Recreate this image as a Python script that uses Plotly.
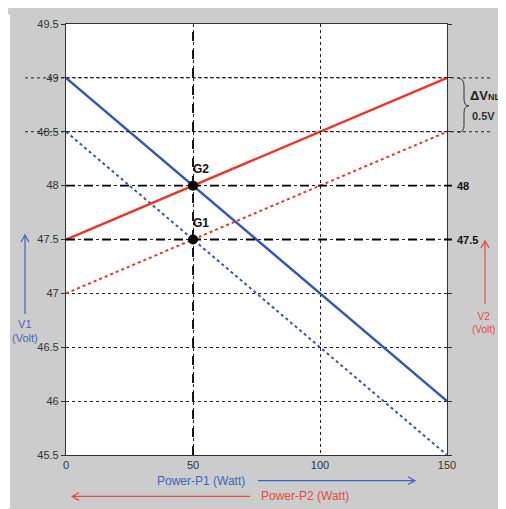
import plotly.graph_objects as go

# ---- data ----
power = [0, 150]
v1_solid = [49, 46]
v1_dotted = [48.5, 45.5]
v2_solid = [47.5, 49]
v2_dotted = [47, 48.5]
g_x = [50, 50]
g_y = [48, 47.5]
g_labels = ["G2", "G1"]
x_ticks = [0, 50, 100, 150]
y_ticks = [45.5, 46, 46.5, 47, 47.5, 48, 48.5, 49, 49.5]
right_labels = [48, 47.5]

OFF = 8  # page body margin
W, H = 506 - OFF, 509 - OFF
L, R, T, B = 66, 447, 18, 455  # plot area in reference (window) pixels
BLUE = "#3557b0"
RED = "#e8382e"
BLUE_T = "#3d66bd"
RED_T = "#e84a40"
FONT = "Liberation Sans, Arial, sans-serif"


def px(xp):
    return (xp - L) / (R - L)


def py(yp):
    return (B - yp) / (B - T)


def P(xp, yp):
    return f"{px(xp):.5f},{py(yp):.5f}"


fig = go.Figure()

fig.add_trace(go.Scatter(x=power, y=v1_solid, mode="lines",
                         line=dict(color=BLUE, width=2.5), showlegend=False))
fig.add_trace(go.Scatter(x=power, y=v1_dotted, mode="lines",
                         line=dict(color=BLUE, width=2, dash="dot"), showlegend=False))
fig.add_trace(go.Scatter(x=power, y=v2_solid, mode="lines",
                         line=dict(color=RED, width=2.5), showlegend=False))
fig.add_trace(go.Scatter(x=power, y=v2_dotted, mode="lines",
                         line=dict(color=RED, width=2, dash="dot"), showlegend=False))
fig.add_trace(go.Scatter(x=g_x, y=g_y, mode="markers",
                         marker=dict(color="black", size=10), showlegend=False))

shapes = []
# thin white strip at the left edge
shapes.append(dict(type="rect", xref="paper", yref="paper", x0=px(OFF), x1=px(10), y0=py(H + OFF), y1=py(OFF),
                   fillcolor="white", line=dict(width=0), layer="below"))
# extended dotted lines for 49 and 48.5
for yv in [49, 48.5]:
    shapes.append(dict(type="line", xref="paper", yref="y", x0=px(25), x1=px(490), y0=yv, y1=yv,
                       line=dict(color="#222", width=1, dash="dot")))
# dashed lines at 48 and 47.5
for yv in right_labels:
    shapes.append(dict(type="line", xref="paper", yref="y", x0=0, x1=px(452), y0=yv, y1=yv,
                       line=dict(color="black", width=1.8, dash="dash")))
# dashed vertical at 50
shapes.append(dict(type="line", xref="x", yref="paper", x0=50, x1=50, y0=0, y1=1,
                   line=dict(color="black", width=1.8, dash="dash")))

# brace
brace = (f"M {P(458,73)} Q {P(464,73)} {P(464,81)} L {P(464,94)} Q {P(464,101)} {P(469,101)} "
         f"Q {P(464,101)} {P(464,108)} L {P(464,121)} Q {P(464,128)} {P(458,128)}")
shapes.append(dict(type="path", xref="paper", yref="paper", path=brace,
                   line=dict(color="#333", width=1)))


def harrow(x1, x2, y, color):
    d = 1 if x2 > x1 else -1
    return dict(type="path", xref="paper", yref="paper",
                path=f"M {P(x1,y)} L {P(x2,y)} M {P(x2-7*d,y-4)} L {P(x2,y)} L {P(x2-7*d,y+4)}",
                line=dict(color=color, width=1.2))


def varrow(x, y1, y2, color):
    return dict(type="path", xref="paper", yref="paper",
                path=f"M {P(x,y1)} L {P(x,y2)} M {P(x-4,y2+7)} L {P(x,y2)} L {P(x+4,y2+7)}",
                line=dict(color=color, width=1.2))


shapes.append(harrow(258, 415, 481, BLUE_T))
shapes.append(harrow(250, 72, 497, RED_T))
shapes.append(varrow(25, 312, 232, BLUE_T))
shapes.append(varrow(485, 302, 238, RED_T))

annotations = []
for gx, gy, lab in zip(g_x, g_y, g_labels):
    annotations.append(dict(xref="x", yref="y", x=gx, y=gy, xanchor="left", yanchor="middle",
                            xshift=-2, yshift=17, text=f"<b>{lab}</b>", showarrow=False,
                            font=dict(family=FONT, size=12, color="#111")))
for yv in right_labels:
    annotations.append(dict(xref="paper", yref="y", x=px(455), y=yv, xanchor="left", yanchor="middle",
                            text=f"<b>{yv:g}</b>", showarrow=False,
                            font=dict(family=FONT, size=11, color="#111")))
annotations.append(dict(xref="paper", yref="paper", x=px(468), y=py(91), xanchor="left", yanchor="middle",
                        text="<b>ΔV<span style='font-size:9px'>NL</span></b>", showarrow=False,
                        font=dict(family=FONT, size=13, color="#222")))
annotations.append(dict(xref="paper", yref="paper", x=px(484), y=py(111), xanchor="center", yanchor="middle",
                        text="<b>0.5V</b>", showarrow=False,
                        font=dict(family=FONT, size=11, color="#333")))
annotations.append(dict(xref="paper", yref="paper", x=px(201), y=py(481), xanchor="center", yanchor="middle",
                        text="Power-P1 (Watt)", showarrow=False,
                        font=dict(family=FONT, size=12, color=BLUE_T)))
annotations.append(dict(xref="paper", yref="paper", x=px(305), y=py(497), xanchor="center", yanchor="middle",
                        text="Power-P2 (Watt)", showarrow=False,
                        font=dict(family=FONT, size=12, color=RED_T)))
annotations.append(dict(xref="paper", yref="paper", x=px(25), y=py(329), xanchor="center", yanchor="middle",
                        text="V1<br>(Volt)", showarrow=False,
                        font=dict(family=FONT, size=11, color=BLUE_T)))
annotations.append(dict(xref="paper", yref="paper", x=px(484), y=py(321), xanchor="center", yanchor="middle",
                        text="V2<br>(Volt)", showarrow=False,
                        font=dict(family=FONT, size=10, color=RED_T)))

fig.update_layout(
    width=W, height=H,
    margin=dict(l=L - OFF, r=(W + OFF) - R, t=T - OFF, b=(H + OFF) - B),
    paper_bgcolor="#cccccc",
    plot_bgcolor="white",
    font=dict(family=FONT, size=11, color="#333"),
    shapes=shapes,
    annotations=annotations,
    xaxis=dict(range=[0, 150], tickvals=x_ticks, showgrid=True, gridcolor="#222", griddash="dot",
               gridwidth=1, showline=True, linecolor="#333", linewidth=1.2, mirror=True,
               zeroline=False, ticks="", tickfont=dict(family=FONT, size=11, color="#333")),
    yaxis=dict(range=[45.5, 49.5], tickvals=y_ticks, ticktext=[f"{v:g}" for v in y_ticks],
               showgrid=True, gridcolor="#222", griddash="dot", gridwidth=1,
               showline=True, linecolor="#333", linewidth=1.2, mirror="ticks",
               ticks="outside", ticklen=4, tickcolor="#333",
               zeroline=False, tickfont=dict(family=FONT, size=11, color="#333")),
)

fig.write_html("out.html")
